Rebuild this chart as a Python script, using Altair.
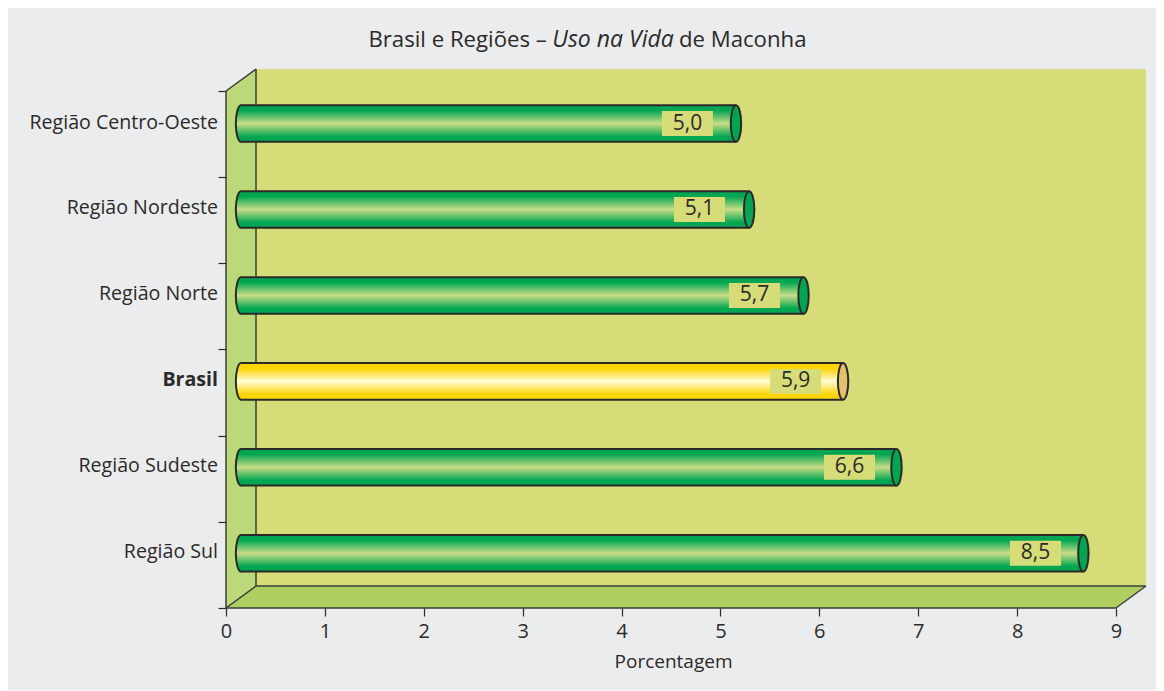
import altair as alt
import pandas as pd

# ---- values -----------------------------------------------------------
categories = ["Região Sul", "Região Sudeste", "Brasil", "Região Norte", "Região Nordeste", "Região Centro-Oeste"]
value_labels = ["8,5", "6,6", "5,9", "5,7", "5,1", "5,0"]
bar_ends = [8.67, 6.78, 6.24, 5.84, 5.29, 5.157]
box_centres = [8.186, 6.305, 5.760, 5.344, 4.788, 4.666]
bar_centres = [0.635, 1.633, 2.63, 3.627, 4.625, 5.622]
x_ticks = [0, 1, 2, 3, 4, 5, 6, 7, 8, 9]
y_ticks = [0, 1, 2, 3, 4, 5, 6]
x_domain = [-2.2045, 9.4045]
y_domain = [-0.9516, 6.963]
depth_x = 0.3034
depth_y = 0.2553
bar_start = 0.152
bar_half = 0.2125
box_half = 0.258

FONT = "Open Sans"
INK = "#2b2a29"
GREEN = "#00a651"

x_axis = alt.Axis(values=x_ticks, offset=-82, domain=False, grid=False, tickSize=8,
                  tickColor=INK, tickWidth=1.2, labelFont=FONT, labelFontSize=20,
                  labelColor=INK, labelPadding=5, format="d", labelFlush=False,
                  title="Porcentagem", titleFont=FONT, titleFontSize=19,
                  titleFontWeight="normal", titleColor=INK, titleX=665, titleY=44, zindex=1)
y_axis = alt.Axis(values=y_ticks, offset=-218, domain=False, grid=False, tickSize=8,
                  tickColor=INK, tickWidth=1.2, labels=False, title=None, zindex=1)

X = lambda f="x": alt.X(f"{f}:Q", scale=alt.Scale(domain=x_domain, nice=False, zero=False), axis=x_axis)
Y = lambda f="y": alt.Y(f"{f}:Q", scale=alt.Scale(domain=y_domain, nice=False, zero=False), axis=y_axis)

rows = pd.DataFrame({
    "cat": categories, "label": value_labels, "end": bar_ends, "y": bar_centres, "bc": box_centres,
})
rows["start"] = bar_start
rows["top"] = rows.y + bar_half
rows["bot"] = rows.y - bar_half
rows["bx1"] = rows.bc - box_half
rows["bx2"] = rows.bc + box_half
rows["by1"] = rows.y - 0.145
rows["by2"] = rows.y + 0.145
rows["lx"] = -0.081
rows["ly"] = rows.y + 0.012

# walls
back = pd.DataFrame({"x": [depth_x], "x2": [9 + depth_x], "y": [depth_y], "y2": [6 + depth_y]})
back_ch = alt.Chart(back).mark_rect(fill="#d5dc78").encode(x=X(), x2="x2:Q", y=Y(), y2="y2:Q")

left = pd.DataFrame({"x": [0, depth_x], "yt": [6, 6 + depth_y], "yb": [0, depth_y]})
left_ch = alt.Chart(left).mark_area(fill="#bcd97a", orient="vertical", line=False).encode(
    x=X(), y=Y("yt"), y2="yb:Q")

floor = pd.DataFrame({"y": [0, depth_y], "xl": [0, depth_x], "xr": [9, 9 + depth_x]})
floor_ch = alt.Chart(floor).mark_area(fill="#b0cf63", orient="horizontal", line=False).encode(
    y=Y(), x=X("xl"), x2="xr:Q")

segments = pd.DataFrame([
    (0, 0, 6, 0),
    (depth_x, depth_x, 6 + depth_y, depth_y),
    (0, depth_x, 6, 6 + depth_y),
    (0, depth_x, 0, depth_y),
    (9, 9 + depth_x, 0, depth_y),
    (0, 9, 0, 0),
    (depth_x, 9 + depth_x, depth_y, depth_y),
], columns=["x", "x2", "y", "y2"])
seg_ch = alt.Chart(segments).mark_rule(color="#3c3c3a", strokeWidth=1.5).encode(
    x=X(), x2="x2:Q", y=Y(), y2="y2:Q")


def gradient(edge, mid):
    return alt.Gradient(
        gradient="linear", x1=0, x2=0, y1=0, y2=1,
        stops=[alt.GradientStop(offset=0, color=edge),
               alt.GradientStop(offset=0.14, color=edge),
               alt.GradientStop(offset=0.5, color=mid),
               alt.GradientStop(offset=0.86, color=edge),
               alt.GradientStop(offset=1, color=edge)])


ELLIPSE_L = "M0,-18.3 A5.2,18.3 0 1,1 0,18.3 A5.2,18.3 0 1,1 0,-18.3 Z"


def cylinder(df, edge, mid, cap):
    g = gradient(edge, mid)
    base = alt.Chart(df)
    lcap = base.mark_point(shape=ELLIPSE_L, size=4, filled=True, fill=g, stroke=INK,
                           strokeWidth=2, opacity=1).encode(x=X("start"), y=Y())
    body = base.mark_rect(fill=g).encode(x=X("start"), x2="end:Q", y=Y("top"), y2="bot:Q")
    etop = base.mark_rule(color=INK, strokeWidth=2).encode(x=X("start"), x2="end:Q", y=Y("top"))
    ebot = base.mark_rule(color=INK, strokeWidth=2).encode(x=X("start"), x2="end:Q", y=Y("bot"))
    rcap = base.mark_point(shape=ELLIPSE_L, size=4, filled=True, fill=cap, stroke=INK,
                           strokeWidth=2, opacity=1).encode(x=X("end"), y=Y())
    return [lcap, body, etop, ebot, rcap]


green_rows = rows[rows.cat != "Brasil"]
yellow_rows = rows[rows.cat == "Brasil"]

boxes = alt.Chart(rows).mark_rect(fill="#d5dc78").encode(
    x=X("bx1"), x2="bx2:Q", y=Y("by1"), y2="by2:Q")
box_text = alt.Chart(rows).mark_text(font=FONT, fontSize=21, color=INK, baseline="middle").encode(
    x=X("bc"), y=Y(), text="label:N")

cat_text = alt.Chart(green_rows).mark_text(font=FONT, fontSize=19.6, color=INK, align="right",
                                           baseline="middle").encode(x=X("lx"), y=Y("ly"), text="cat:N")
cat_bold = alt.Chart(yellow_rows).mark_text(font=FONT, fontSize=19.6, fontWeight="bold", color=INK,
                                            align="right", baseline="middle").encode(
    x=X("lx"), y=Y("ly"), text="cat:N")

title_parts = pd.DataFrame({
    "x": [1.44, 3.30, 4.58],
    "text": ["Brasil e Regiões –", "Uso na Vida", "de Maconha"],
})
title_parts["y"] = 6.59
title_reg = alt.Chart(title_parts[title_parts.text != "Uso na Vida"]).mark_text(
    font=FONT, fontSize=22.2, color=INK, align="left", baseline="middle").encode(
    x=X(), y=Y(), text="text:N")
title_it = alt.Chart(title_parts[title_parts.text == "Uso na Vida"]).mark_text(
    font=FONT, fontSize=23, fontStyle="italic", color=INK, align="left", baseline="middle").encode(
    x=X(), y=Y(), text="text:N")

layers = [back_ch, left_ch, floor_ch, seg_ch]
layers += cylinder(green_rows, GREEN, "#c8dd88", GREEN)
layers += cylinder(yellow_rows, "#ffd400", "#fffbd6", "#e3c06e")
layers += [boxes, box_text, cat_text, cat_bold, title_reg, title_it]

chart = alt.layer(*layers).properties(
    width=1148, height=682, padding=0, background="white",
    autosize=alt.AutoSizeParams(type="none"),
).configure_view(fill="#ebeced", stroke=None)

chart.save("out.html", embed_options={"renderer": "svg", "actions": False})
